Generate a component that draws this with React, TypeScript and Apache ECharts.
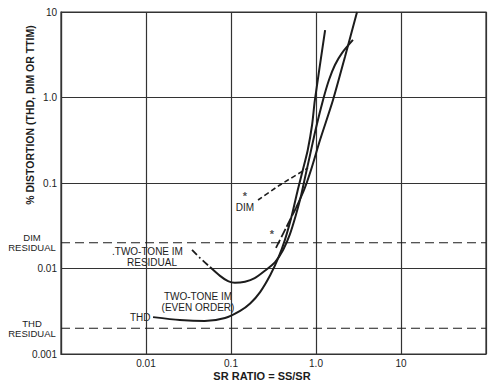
import React, { useEffect, useRef } from "react";
import * as echarts from "echarts";

const xTicks = [0.01, 0.1, 1, 10];
const xTickLabels = ["0.01", "0.1", "1.0", "10"];
const yTicks = [0.001, 0.01, 0.1, 1, 10];
const yTickLabels = ["0.001", "0.01", "0.1", "1.0", "10"];

const thd = [
  [0.0121, 0.0027], [0.025, 0.0025], [0.049, 0.00243], [0.085, 0.00264],
  [0.128, 0.0032], [0.168, 0.0039], [0.22, 0.0053], [0.29, 0.0084],
  [0.36, 0.0133], [0.43, 0.0215], [0.52, 0.042], [0.61, 0.083],
  [0.7, 0.142], [0.8, 0.243], [0.9, 0.48], [0.97, 0.93], [1.28, 6.15],
];
const twoToneResidual = [[0.0348, 0.0165], [0.0431, 0.0133], [0.0566, 0.0104]];
const twoTone = [
  [0.0566, 0.0104], [0.0743, 0.0082], [0.0923, 0.0071], [0.111, 0.0068],
  [0.146, 0.007], [0.19, 0.0077], [0.25, 0.0094], [0.33, 0.0119],
  [0.41, 0.0165], [0.49, 0.0247], [0.58, 0.0423], [0.67, 0.0724],
  [0.74, 0.114], [0.85, 0.212], [1.0, 0.44], [1.21, 0.935], [1.42, 1.6],
  [1.67, 2.4], [2.02, 3.31], [2.72, 4.71],
];
const dimDashed = [[0.208, 0.0633], [0.377, 0.0948], [0.805, 0.15]];
const ttimDashed = [[0.338, 0.0174], [0.444, 0.0298], [0.582, 0.051]];
const ttim = [
  [0.582, 0.051], [0.723, 0.0828], [0.873, 0.142], [1.115, 0.318],
  [1.585, 0.935], [2.19, 2.98], [3.04, 10],
];
const asterisks = [[0.146, 0.0705], [0.303, 0.0253]];
const xRange = [0.001, 100];
const dimResidual = 0.02;
const thdResidual = 0.002;

const FONT = '"Liberation Sans", Arial, sans-serif';
const INK = "#1c1c1c";

function labelFor(v: number, ticks: number[], labels: string[]) {
  const i = ticks.findIndex((t) => Math.abs(Math.log10(t) - Math.log10(v)) < 0.01);
  return i >= 0 ? labels[i] : "";
}

function txt(text: string, x: number, y: number, align = "left", size = 10, weight = "normal", rotation = 0) {
  return {
    type: "text",
    x,
    y,
    rotation,
    silent: true,
    style: {
      text,
      fill: INK,
      font: `${weight} ${size}px ${FONT}`,
      align,
      verticalAlign: "middle",
    },
  };
}

export default function App() {
  const ref = useRef<HTMLDivElement>(null);
  useEffect(() => {
    const chart = echarts.init(ref.current!, null, { renderer: "svg" });
    const curve = (data: number[][], type: any = "solid", width = 2, smooth: any = 0.25) => ({
      type: "line",
      data,
      showSymbol: false,
      symbol: "none",
      smooth,
      silent: true,
      lineStyle: { color: INK, width, type },
    });
    const residual = (v: number) =>
      curve(xRange.map((x) => [x, v]), [9, 5], 1.2, false);
    chart.setOption({
      animation: false,
      backgroundColor: "#ffffff",
      grid: {
        left: 61, right: 18, top: 12, bottom: 30,
        show: true, borderColor: "#333", borderWidth: 1.2,
      },
      xAxis: {
        type: "log",
        logBase: 10,
        min: xRange[0],
        max: xRange[1],
        axisLine: { show: true, lineStyle: { color: "#333", width: 1.2 } },
        axisTick: { show: false },
        splitLine: { show: true, lineStyle: { color: "#333", width: 1.2 } },
        minorTick: { show: false },
        axisLabel: {
          color: INK, fontFamily: FONT, fontSize: 10, margin: 4,
          formatter: (v: number) => labelFor(v, xTicks, xTickLabels),
        },
      },
      yAxis: {
        type: "log",
        logBase: 10,
        min: 0.001,
        max: 10,
        axisLine: { show: true, lineStyle: { color: "#333", width: 1.2 } },
        axisTick: { show: false },
        splitLine: { show: true, lineStyle: { color: "#333", width: 1.2 } },
        axisLabel: {
          color: INK, fontFamily: FONT, fontSize: 10, margin: 4,
          formatter: (v: number) => labelFor(v, yTicks, yTickLabels),
        },
      },
      series: [
        residual(dimResidual),
        residual(thdResidual),
        curve(thd),
        curve(twoToneResidual, [7, 3, 2, 3], 1.8),
        curve(twoTone),
        curve(dimDashed, [5, 3], 1.6),
        curve(ttimDashed, [9, 3], 1.8),
        curve(ttim),
        {
          type: "scatter",
          data: asterisks,
          symbolSize: 1,
          itemStyle: { color: "rgba(0,0,0,0)" },
          silent: true,
          label: {
            show: true,
            position: "inside",
            formatter: "*",
            color: INK,
            fontFamily: FONT,
            fontSize: 11,
            fontWeight: "bold",
          },
        },
      ],
      graphic: [
        txt("% DISTORTION (THD, DIM OR TTIM)", 30, 115, "center", 10.5, "bold", Math.PI / 2),
        txt("SR RATIO = SS/SR", 262, 376, "center", 11, "bold"),
        txt("DIM", 32, 237, "center", 9.5),
        txt("RESIDUAL", 32, 247, "center", 9.5),
        txt("THD", 32, 323, "center", 9.5),
        txt("RESIDUAL", 32, 333, "center", 9.5),
        txt(".TWO-TONE IM", 112, 251, "left", 10),
        txt("RESIDUAL", 152, 262, "center", 10),
        txt("TWO-TONE IM", 198, 296, "center", 10),
        txt("(EVEN ORDER)", 198, 307, "center", 10),
        txt("THD", 130, 317, "left", 10),
        txt("DIM", 245, 207, "center", 10),
      ],
    });
    return () => chart.dispose();
  }, []);
  return <div ref={ref} style={{ width: 504, height: 384, position: "absolute", left: 0, top: 0 }} />;
}
